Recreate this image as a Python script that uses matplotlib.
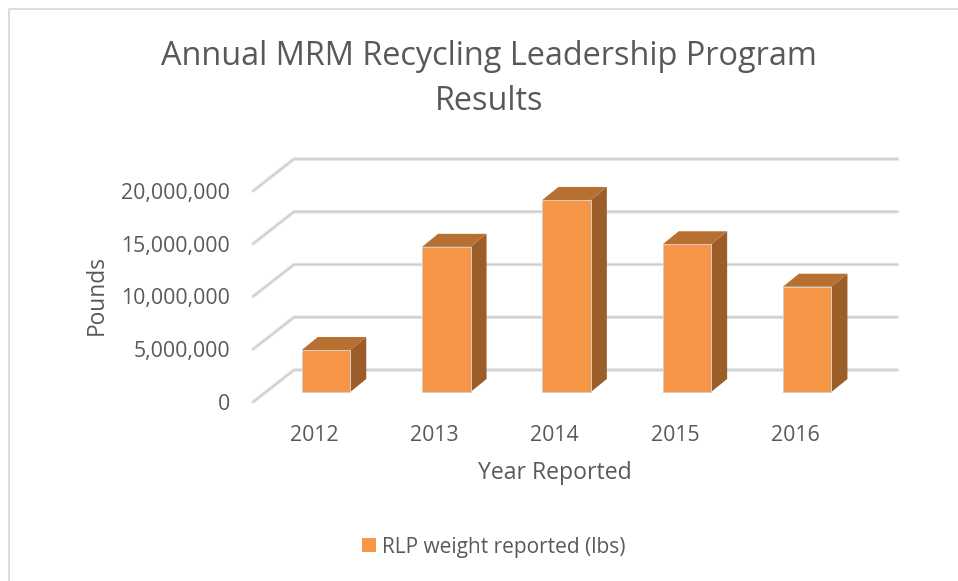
import matplotlib.pyplot as plt
from matplotlib.patches import Patch, Polygon, Rectangle
from matplotlib.transforms import Affine2D
from matplotlib.ticker import FuncFormatter

years = ['2012', '2013', '2014', '2015', '2016']
pounds = [3980000, 13760000, 18200000, 14000000, 9980000]
grid_values = [0, 5000000, 10000000, 15000000, 20000000]
series_name = 'RLP weight reported (lbs)'
title = 'Annual MRM Recycling Leadership Program\nResults'

WIDTH, HEIGHT = 958, 581
FRONT = '#F79646'
SIDE = '#9C5E28'
TOP = '#B87030'
TEXT = '#595959'
EDGE = '#D4CFCA'

plt.rcParams['font.family'] = ['Open Sans', 'DejaVu Sans']

fig = plt.figure(figsize=(WIDTH / 100, HEIGHT / 100), dpi=100)

# axes box in pixels: the bars' front plane, zero on the bottom edge
left, right, top, bottom = 262, 899, 159, 392
ax = fig.add_axes([left / WIDTH, 1 - bottom / HEIGHT, (right - left) / WIDTH, (bottom - top) / HEIGHT])
px_per_cat = 120.3
px_per_lb = 52.75 / 5000000
ax.patch.set_alpha(0)
for s in ax.spines.values():
    s.set_visible(False)

# gridlines run along the floor edge and then the back wall
x_floor_front = (253 - 326) / px_per_cat
x_floor_back = (294 - 326) / px_per_cat
x_end = (897.5 - 326) / px_per_cat
floor_drop = 10 / px_per_lb
wall_rise = 22 / px_per_lb
for v in grid_values:
    xs = [x_floor_front, x_floor_back, x_end]
    ys = [v - floor_drop, v + wall_rise, v + wall_rise]
    ax.plot(xs, ys, color='#E2E2E2', lw=2.5, zorder=1, clip_on=False,
            solid_capstyle='round', solid_joinstyle='round')
    ax.plot(xs, ys, color='#CDCDCD', lw=0.9, zorder=1.1, clip_on=False,
            solid_capstyle='round', solid_joinstyle='round')

# bars with a fixed pixel depth
bar_w = 48.5 / px_per_cat
depth_x = 16 / px_per_cat
depth_y = 13 / px_per_lb
for i, v in enumerate(pounds):
    x0, x1 = i - bar_w / 2, i + bar_w / 2
    ax.add_patch(Polygon([(x1, 0), (x1 + depth_x, depth_y), (x1 + depth_x, v + depth_y), (x1, v)],
                         facecolor=SIDE, edgecolor='none', zorder=3, clip_on=False))
    ax.add_patch(Polygon([(x0, v), (x1, v), (x1 + depth_x, v + depth_y), (x0 + depth_x, v + depth_y)],
                         facecolor=TOP, edgecolor='none', zorder=3, clip_on=False))
    ax.add_patch(Rectangle((x0, 0), bar_w, v, facecolor=FRONT, edgecolor=EDGE, lw=0.7, zorder=4, clip_on=False))

ax.set_xlim((left - 326) / px_per_cat, (right - 326) / px_per_cat)
ax.set_ylim(0, (bottom - top) / px_per_lb)
ax.set_xticks(range(len(years)))
ax.set_xticklabels(years)
ax.set_yticks(grid_values)
ax.yaxis.set_major_formatter(FuncFormatter(lambda v, p: f'{int(v):,}'))
ax.tick_params(axis='x', length=0, pad=23.5, labelsize=15.3, labelcolor=TEXT)
ax.tick_params(axis='y', length=0, pad=23, labelsize=15.3, labelcolor=TEXT)
# labels sit on the front edge of the floor, not under the bars
for lab in ax.get_xticklabels():
    lab.set_transform(lab.get_transform() + Affine2D().translate(-12, 0))
for lab in ax.get_yticklabels():
    lab.set_transform(lab.get_transform() + Affine2D().translate(0, -10))

ax.set_xlabel('Year Reported', fontsize=16.6, color=TEXT)
ax.xaxis.set_label_coords((555 - left) / (right - left), 1 - (473 - top) / (bottom - top), transform=ax.transAxes)
ax.xaxis.label.set_va('center')
ax.set_ylabel('Pounds', fontsize=16.4, color=TEXT)
ax.yaxis.set_label_coords((97 - left) / (right - left), 1 - (295 - top) / (bottom - top), transform=ax.transAxes)
ax.yaxis.label.set_va('center')

fig.text(489 / WIDTH, 1 - 79 / HEIGHT, title, fontsize=23.4, color=TEXT, ha='center', va='center', linespacing=1.5)

ax.legend(handles=[Patch(facecolor=FRONT, label=series_name)], loc='center', frameon=False,
          bbox_to_anchor=(494 / WIDTH, 1 - 547 / HEIGHT), bbox_transform=fig.transFigure,
          fontsize=15, labelcolor=TEXT, handlelength=0.67, handleheight=0.67, handletextpad=0.3)

# chart frame, open on the bottom and the right
fig.add_artist(plt.Line2D([8.5 / WIDTH, 8.5 / WIDTH, 1], [0, 1 - 9 / HEIGHT, 1 - 9 / HEIGHT],
                          color='#DADADA', lw=1.3))

fig.savefig('out.png', dpi=100)
